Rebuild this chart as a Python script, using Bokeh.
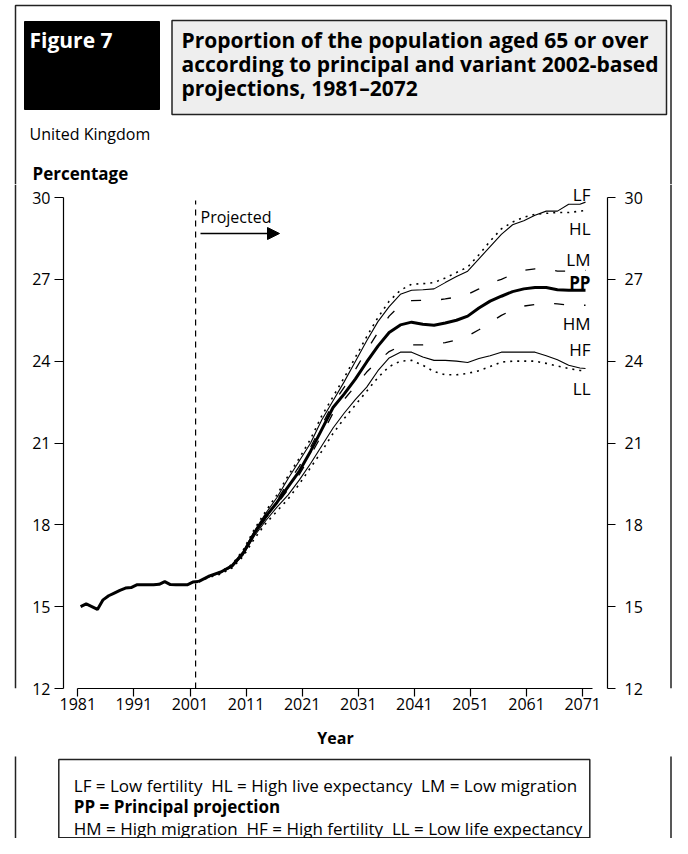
from bokeh.plotting import figure
from bokeh.layouts import column, row
from bokeh.models import (Range1d, LinearAxis, FixedTicker, Span, Label,
                          BoxAnnotation, Arrow, NormalHead, ColumnDataSource)
from bokeh.embed import file_html
from bokeh.resources import INLINE

# ---------------- data ----------------
hist_years = list(range(1981, 2003))
hist_pct = [15.0, 15.1, 15.0, 14.9, 15.25, 15.4, 15.5, 15.6, 15.68, 15.7, 15.8,
            15.8, 15.8, 15.8, 15.82, 15.92, 15.81, 15.8, 15.8, 15.8, 15.9, 15.92]

proj_years = [2002, 2004, 2006, 2008, 2010, 2012, 2014, 2016, 2018, 2020,
              2022, 2024, 2026, 2028, 2030, 2032, 2034, 2036, 2038, 2040,
              2042, 2044, 2046, 2048, 2050, 2052, 2054, 2056, 2058, 2060,
              2062, 2064, 2066, 2068, 2070, 2071]

pp = [15.92, 16.13, 16.27, 16.5, 16.98, 17.7, 18.3, 18.82, 19.4, 19.97,
      20.7, 21.5, 22.3, 22.8, 23.35, 23.97, 24.55, 25.05, 25.33, 25.43,
      25.35, 25.32, 25.4, 25.5, 25.65, 25.95, 26.2, 26.38, 26.55, 26.65,
      26.7, 26.7, 26.62, 26.6, 26.6, 26.6]
lf = [15.92, 16.13, 16.27, 16.52, 17.02, 17.78, 18.42, 19.0, 19.7, 20.35,
      21.0, 21.85, 22.55, 23.25, 24.0, 24.75, 25.45, 26.0, 26.45, 26.6,
      26.62, 26.65, 26.88, 27.1, 27.3, 27.75, 28.2, 28.65, 29.0, 29.15,
      29.35, 29.5, 29.5, 29.75, 29.75, 29.83]
hl = [15.92, 16.13, 16.28, 16.55, 17.08, 17.85, 18.5, 19.1, 19.8, 20.45,
      21.15, 22.0, 22.7, 23.4, 24.15, 24.9, 25.6, 26.2, 26.6, 26.82,
      26.84, 26.88, 27.05, 27.25, 27.45, 27.9, 28.4, 28.85, 29.1, 29.28,
      29.38, 29.42, 29.45, 29.45, 29.5, 29.52]
lm = [15.92, 16.13, 16.27, 16.5, 17.0, 17.73, 18.36, 18.9, 19.55, 20.15,
      20.85, 21.65, 22.45, 23.05, 23.7, 24.4, 25.05, 25.65, 26.05, 26.22,
      26.23, 26.23, 26.28, 26.35, 26.45, 26.65, 26.88, 27.0, 27.18, 27.33,
      27.38, 27.38, 27.3, 27.3, 27.33, 27.33]
hm = [15.92, 16.12, 16.25, 16.48, 16.95, 17.65, 18.25, 18.75, 19.3, 19.85,
      20.55, 21.3, 22.1, 22.6, 23.1, 23.6, 24.0, 24.35, 24.55, 24.6,
      24.6, 24.62, 24.68, 24.78, 24.92, 25.15, 25.42, 25.68, 25.88, 26.02,
      26.08, 26.12, 26.1, 26.05, 26.05, 26.05]
hf = [15.92, 16.1, 16.24, 16.45, 16.9, 17.6, 18.15, 18.65, 19.1, 19.65,
      20.25, 20.9, 21.55, 22.1, 22.6, 23.05, 23.65, 24.12, 24.33, 24.33,
      24.15, 24.03, 24.03, 24.0, 23.95, 24.1, 24.2, 24.33, 24.33, 24.33,
      24.33, 24.2, 24.05, 23.85, 23.75, 23.73]
ll = [15.92, 16.08, 16.2, 16.42, 16.85, 17.5, 18.05, 18.5, 18.95, 19.5,
      20.1, 20.7, 21.35, 21.9, 22.4, 22.9, 23.4, 23.8, 24.0, 24.03,
      23.85, 23.62, 23.5, 23.5, 23.55, 23.65, 23.8, 23.97, 24.0, 24.0,
      24.0, 23.92, 23.82, 23.73, 23.66, 23.64]

x_ticks = [1981, 1991, 2001, 2011, 2021, 2031, 2041, 2051, 2061, 2071]
y_ticks = [12, 15, 18, 21, 24, 27, 30]
projection_start = 2002

series_codes = ["LF", "HL", "LM", "PP", "HM", "HF", "LL"]
figure_no = "Figure 7"
title_lines = ["Proportion of the population aged 65 or over",
               "according to principal and variant 2002-based",
               "projections, 1981\u20132072"]
subtitle = "United Kingdom"
y_title = "Percentage"
x_title = "Year"
legend_rows = [["LF = Low fertility", "HL = High live expectancy", "LM = Low migration"],
               ["PP = Principal projection"],
               ["HM = High migration", "HF = High fertility", "LL = Low life expectancy"]]

# ---------------- layout (canvas pixels) ----------------
FONT = "Open Sans"
W, H = 672, 838
HEAD_B = 184          # header figure bottom
MAIN_B = 756          # main figure bottom
STRIP_L, STRIP_R = 20, 12
FRAME_L_X, FRAME_R_X, FRAME_T_Y = 15, 670.5, 5
BORDER_C = "#222222"

# plot frame in canvas pixels
FL, FR, FB = 63, 607, 688
Y30_PX = 197
X0 = 1981 + (FL - 77.3) / 5.61
X1 = 1981 + (FR - 77.3) / 5.61
Y0, YTOP = 12, 30
PX_PER_UNIT = (FB - Y30_PX) / (YTOP - Y0)
Y1 = YTOP + (Y30_PX - HEAD_B) / PX_PER_UNIT


def dx(px):
    return X0 + (px - FL) * (X1 - X0) / (FR - FL)


def dy(py):
    return YTOP - (py - Y30_PX) / PX_PER_UNIT


def canvas_fig(x_left, y_top, w, h):
    f = figure(width=w, height=h, output_backend="svg", toolbar_location=None,
               x_range=Range1d(x_left, x_left + w), y_range=Range1d(y_top + h, y_top),
               min_border=0, x_axis_location=None, y_axis_location=None,
               background_fill_color="white", border_fill_color="white")
    f.outline_line_color = None
    f.grid.visible = False
    return f


def box(f, l, r, t, b, fill=None, lw=1.5, lc=BORDER_C):
    f.add_layout(BoxAnnotation(left=l, right=r, top=t, bottom=b,
                               fill_color=fill if fill else "white",
                               fill_alpha=1 if fill else 0,
                               line_color=lc, line_alpha=1, line_width=lw))


def lab(f, x, y, text, size="16px", bold=False, color="black", align="left",
        baseline="middle"):
    f.add_layout(Label(x=x, y=y, text=text, text_font=FONT, text_font_size=size,
                       text_font_style="bold" if bold else "normal",
                       text_color=color, text_align=align, text_baseline=baseline))


# ---------------- header ----------------
head = canvas_fig(0, 0, W, HEAD_B)
box(head, FRAME_L_X, FRAME_R_X, FRAME_T_Y, 400)
box(head, 24, 159, 21, 109, fill="black", lw=1, lc="black")
box(head, 171.5, 666, 20, 114, fill="#eeeeee")
lab(head, 29, 39.5, figure_no, size="21px", bold=True, color="white")
for i, t in enumerate(title_lines):
    lab(head, 181, 39 + i * 24, t, size="21px", bold=True)
lab(head, 29, 133.5, subtitle)
lab(head, 32, 172.5, y_title, size="17px", bold=True)

# ---------------- side strips (outer frame) ----------------
sl = canvas_fig(0, HEAD_B, STRIP_L, MAIN_B - HEAD_B)
sl.add_layout(Span(location=FRAME_L_X, dimension="height", line_color=BORDER_C, line_width=1.5))
sr = canvas_fig(W - STRIP_R, HEAD_B, STRIP_R, MAIN_B - HEAD_B)
sr.add_layout(Span(location=FRAME_R_X, dimension="height", line_color=BORDER_C, line_width=1.5))

# ---------------- main plot ----------------
MW = W - STRIP_L - STRIP_R
MH = MAIN_B - HEAD_B
p = figure(width=MW, height=MH, output_backend="svg", toolbar_location=None,
           x_range=Range1d(X0, X1), y_range=Range1d(Y0, Y1),
           min_border_left=FL - STRIP_L,
           min_border_right=(STRIP_L + MW) - FR,
           min_border_top=0, min_border_bottom=MAIN_B - FB,
           background_fill_color="white", border_fill_color="white")
p.outline_line_color = None
p.xgrid.visible = False
p.ygrid.visible = False


def style_axis(ax, tick_out, standoff):
    ax.axis_line_color = "black"
    ax.axis_line_width = 1.2
    ax.major_tick_line_color = "black"
    ax.major_tick_line_width = 1.2
    ax.major_tick_in = 0
    ax.major_tick_out = tick_out
    ax.minor_tick_in = 0
    ax.minor_tick_out = 0
    ax.major_label_text_font = FONT
    ax.major_label_text_font_size = "16px"
    ax.major_label_text_color = "black"
    ax.major_label_standoff = standoff


xa = p.xaxis[0]
xa.ticker = FixedTicker(ticks=x_ticks)
xa.bounds = (1981, 2072.8)
style_axis(xa, 8, 1)
xa.axis_label = x_title
xa.axis_label_text_font = FONT
xa.axis_label_text_font_style = "bold"
xa.axis_label_text_font_size = "16px"
xa.axis_label_text_color = "black"
xa.axis_label_standoff = 14

ya = p.yaxis[0]
ya.ticker = FixedTicker(ticks=y_ticks)
ya.bounds = (Y0, YTOP)
style_axis(ya, 9, 4)

ra = LinearAxis(ticker=FixedTicker(ticks=y_ticks), bounds=(Y0, YTOP))
style_axis(ra, 8, 9)
p.add_layout(ra, "right")

# lines (mid-year positions)
hx = [y + 0.5 for y in hist_years]
px_ = [y + 0.5 for y in proj_years]
p.line(hx, hist_pct, line_color="black", line_width=3)
styles = {
    "LF": (lf, "solid", 1.1),
    "HL": (hl, "2 5", 1.6),
    "LM": (lm, "10 20", 1.3),
    "HM": (hm, "10 20", 1.3),
    "HF": (hf, "solid", 1.1),
    "LL": (ll, "2 5", 1.6),
    "PP": (pp, "solid", 3),
}
for code in ["LF", "HL", "LM", "HM", "HF", "LL", "PP"]:
    vals, dash, w = styles[code]
    src = ColumnDataSource(dict(x=px_, y=vals))
    p.line("x", "y", source=src, line_color="black", line_width=w, line_dash=dash)

p.segment(x0=[projection_start], y0=[Y0], x1=[projection_start], y1=[dy(200)],
          line_color="black", line_width=1.2, line_dash="6 5")

lab(p, dx(200), dy(216), "Projected")
p.add_layout(Arrow(end=NormalHead(size=12, fill_color="black", line_color="black"),
                   x_start=dx(200), y_start=dy(233), x_end=dx(279), y_end=dy(233),
                   line_color="black", line_width=1.5))

label_y = {"LF": 194, "HL": 228, "LM": 258.5, "PP": 282, "HM": 323, "HF": 349, "LL": 388}
for code in series_codes:
    lab(p, dx(590), dy(label_y[code]), code, size="17px", bold=(code == "PP"),
        align="right")

# ---------------- legend ----------------
leg = canvas_fig(0, MAIN_B, W, H - MAIN_B)
box(leg, FRAME_L_X, FRAME_R_X, 600, 1000)
box(leg, 58.3, 589.3, 759, 837.3)
GAP = "\u00a0\u00a0"
for i, parts in enumerate(legend_rows):
    lab(leg, 73.3, 784.5 + i * 21.5, GAP.join(parts), size="17px", bold=(i == 1))

layout = column(head, row(sl, p, sr), leg)
open("out.html", "w").write(file_html(layout, INLINE))
